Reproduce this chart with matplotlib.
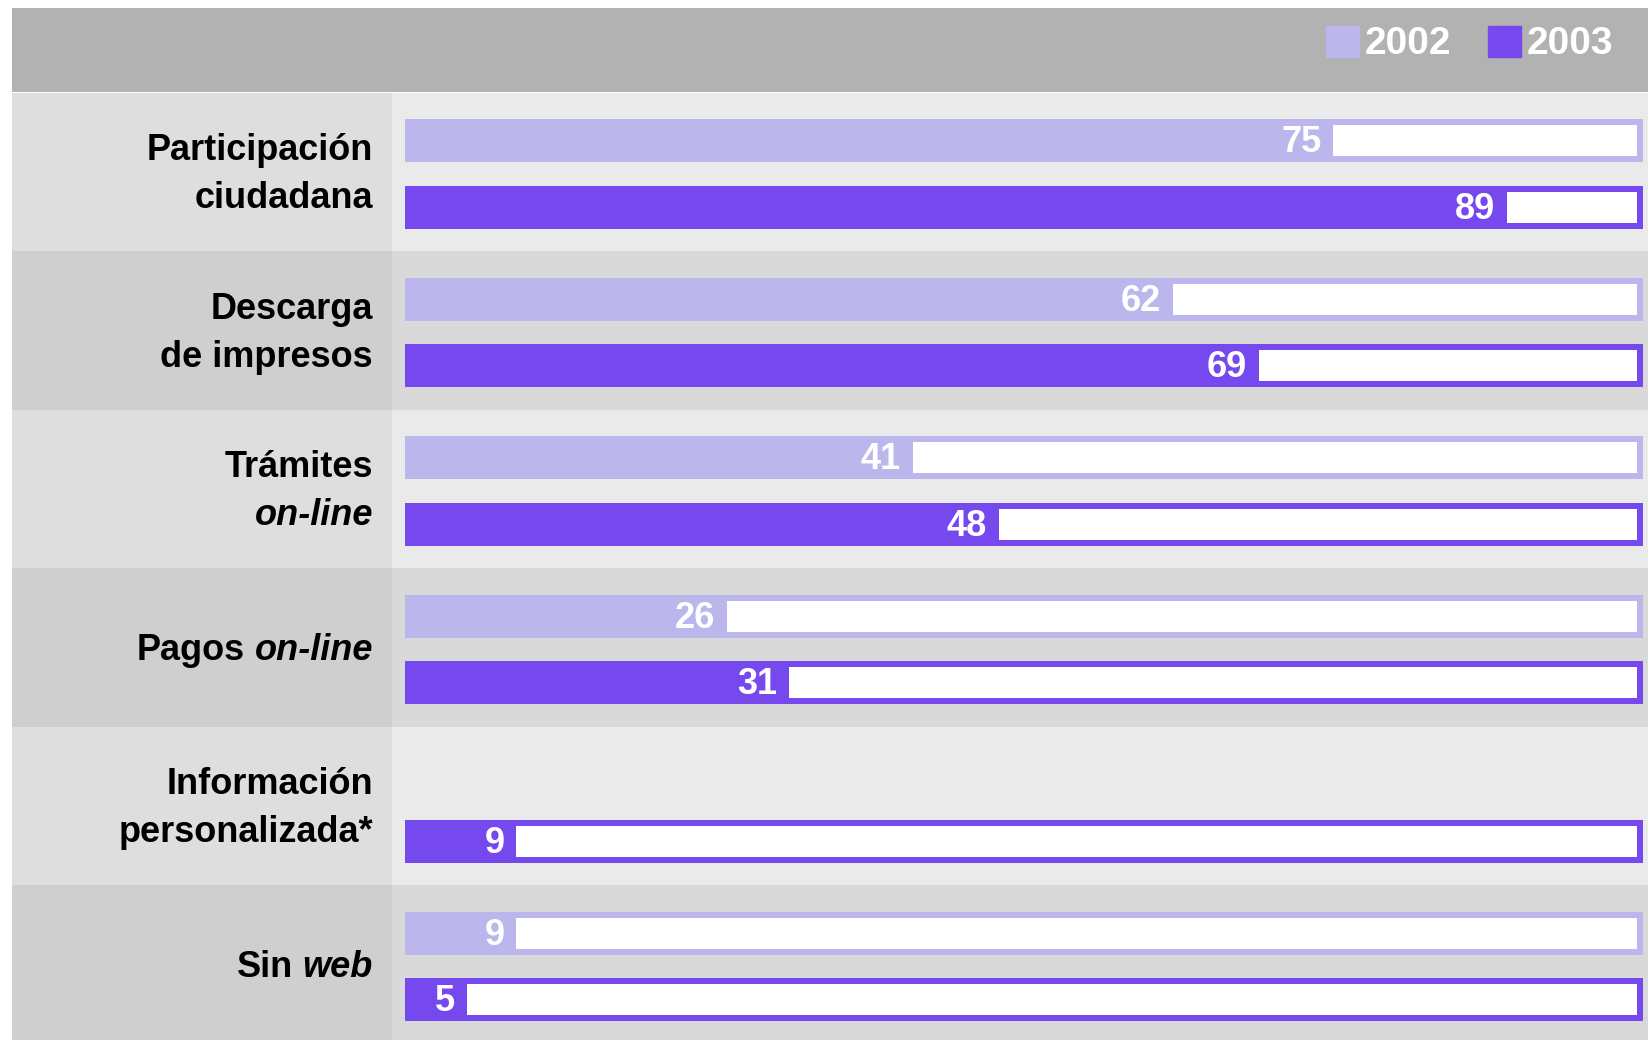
import matplotlib.pyplot as plt
from matplotlib.patches import Patch

# datos
categorias = ['Participación\nciudadana', 'Descarga\nde impresos', 'Trámites\non-line',
              'Pagos on-line', 'Información\npersonalizada*', 'Sin web']
valores_2002 = [75, 62, 41, 26, None, 9]
valores_2003 = [89, 69, 48, 31, 9, 5]
anios = ['2002', '2003']

color_2002 = '#BBB7EC'
color_2003 = '#7649EE'
fuente = 'Liberation Sans'

W, H = 1649, 1040
fig = plt.figure(figsize=(W / 100, H / 100), dpi=100)
fig.patch.set_facecolor('white')

# === cabecera gris con leyenda ===
top_px, row_px = 92.5, 158.5
cab = fig.add_axes([12 / W, 1 - 92 / H, 1 - 12 / W, 84 / H])
cab.set_facecolor('#B2B2B2')
cab.set_xticks([])
cab.set_yticks([])
for s in cab.spines.values():
    s.set_visible(False)

# === eje principal ===
ax = fig.add_axes([12 / W, 0, 1 - 12 / W, 1 - top_px / H])
px_unidad = (1643 - 405) / 100
x_izq = (12 - 405) / px_unidad
x_der = (W - 405) / px_unidad
x_col = (392 - 405) / px_unidad
n = len(categorias)
y_fondo = (H - top_px) / row_px
ax.set_xlim(x_izq, x_der)
ax.set_ylim(y_fondo, 0)
ax.axis('off')

alto = 0.272
off_a, off_b = 0.305, 0.725
ins_x = 6 / px_unidad
ins_y = 6 / row_px

for i, cat in enumerate(categorias):
    claro = i % 2 == 0
    ax.axhspan(i, i + 1, xmin=0, xmax=1, color='#EAEAEA' if claro else '#D9D9D9', lw=0, zorder=0)
    ax.fill_between([x_izq, x_col], i, i + 1, color='#DEDEDE' if claro else '#CFCFCF', lw=0, zorder=1)

    for off, v, col in [(off_a, valores_2002[i], color_2002), (off_b, valores_2003[i], color_2003)]:
        if v is None:
            continue
        y = i + off
        ax.barh(y, 100, left=0, height=alto, color=col, zorder=2)
        ax.barh(y, 100 - v - ins_x, left=v, height=alto - 2 * ins_y, color='white', zorder=3)
        ax.text(v - 12 / px_unidad, y + 0.012, str(v), ha='right', va='center', color='white',
                fontsize=26, fontweight='bold', family=fuente, zorder=4)

# etiquetas de categorias
x_lab = (373 - 405) / px_unidad
kw = dict(fontsize=26, fontweight='bold', family=fuente, color='black', zorder=5)
sep = 48 / row_px
for i, cat in enumerate(categorias):
    yc = i + 0.5 + 0.02
    lineas = cat.split('\n')
    if cat == 'Pagos on-line':
        t = ax.text(x_lab, yc, 'on-line', ha='right', va='center', style='italic', **kw)
        ax.annotate('Pagos', xy=(0, 0.5), xycoords=t, xytext=(-7, 0), textcoords='offset points',
                    ha='right', va='center', **kw)
    elif cat == 'Sin web':
        t = ax.text(x_lab, yc, 'web', ha='right', va='center', style='italic', **kw)
        ax.annotate('Sin', xy=(0, 0.5), xycoords=t, xytext=(-7, 0), textcoords='offset points',
                    ha='right', va='center', **kw)
    else:
        for j, linea in enumerate(lineas):
            y = yc + (j - 0.5) * sep
            estilo = 'italic' if linea == 'on-line' else 'normal'
            ax.text(x_lab, y, linea, ha='right', va='center', style=estilo, **kw)

# leyenda
handles = [Patch(facecolor=color_2002, edgecolor=color_2002),
           Patch(facecolor=color_2003, edgecolor=color_2003)]
fig.legend(handles, anios, loc='center right', bbox_to_anchor=(1 - 20 / W, 1 - 44 / H),
           ncol=2, frameon=False, handlelength=0.85, handleheight=0.85, handletextpad=0.15,
           columnspacing=0.95, borderaxespad=0,
           prop={'family': fuente, 'weight': 'bold', 'size': 28}, labelcolor='white')

plt.savefig('out.png', dpi=100)
